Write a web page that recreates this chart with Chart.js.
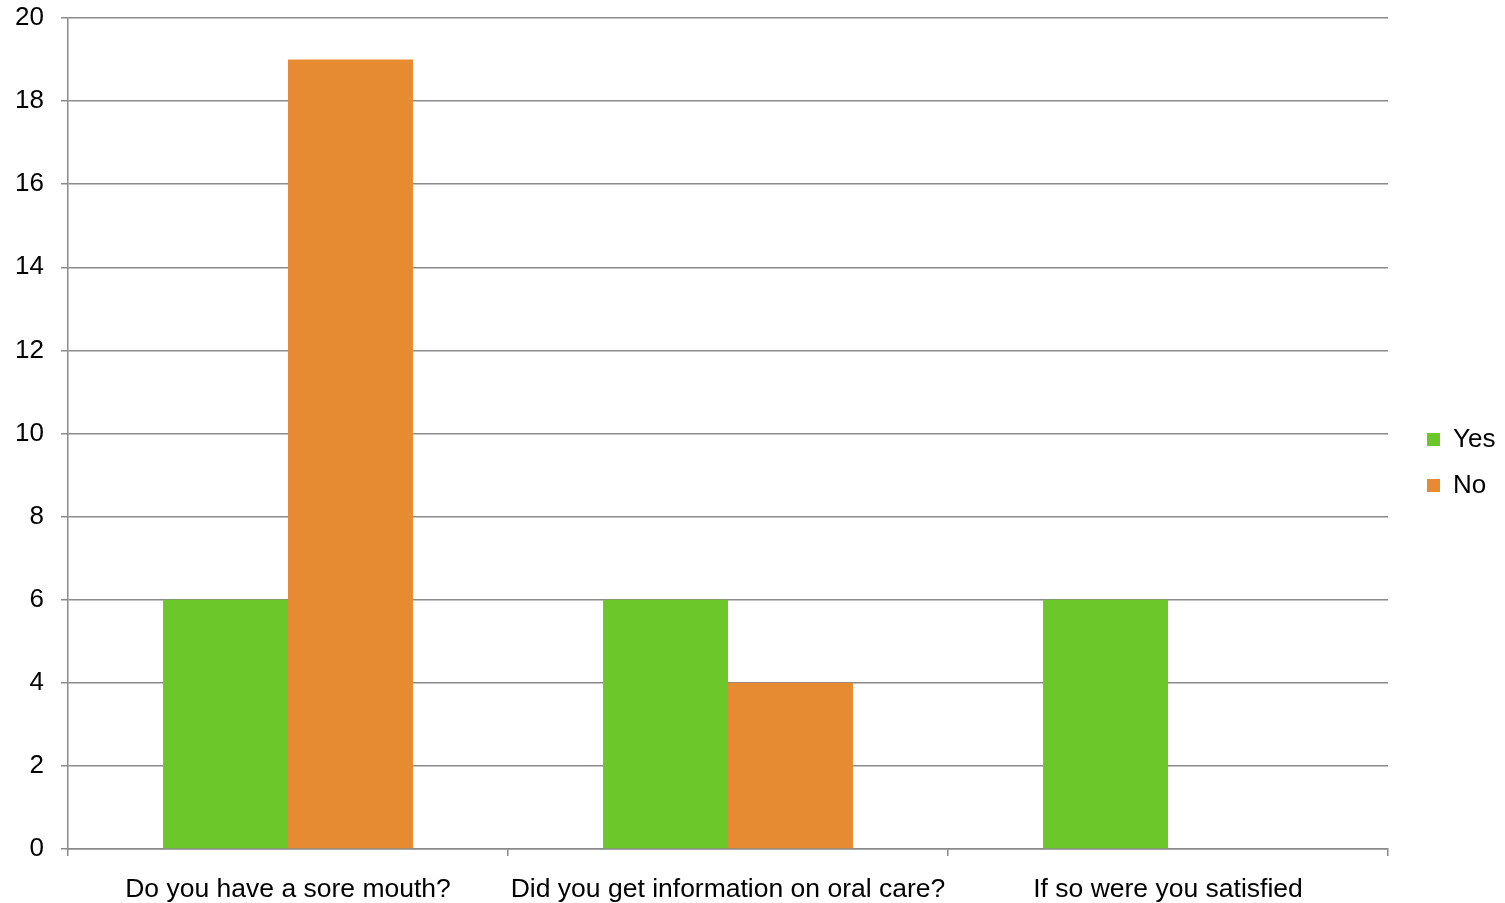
<!DOCTYPE html>
<html>
<head>
<meta charset="utf-8">
<script src="https://cdn.jsdelivr.net/npm/chart.js@4/dist/chart.umd.min.js"></script>
<style>
html,body{margin:0;padding:0;background:#fff;}
#wrap{width:1505px;height:903px;position:relative;}
</style>
</head>
<body>
<div id="wrap"><canvas id="c" width="1505" height="903"></canvas></div>
<script>
const categories = ["Do you have a sore mouth?", "Did you get information on oral care?", "If so were you satisfied"];
const yesValues = [6, 6, 6];
const noValues = [19, 4, 0];
const seriesNames = ["Yes", "No"];

const FONT = "'Liberation Sans', Arial, sans-serif";
const GRID = '#8a8a8a';

const legendShift = {
  id: 'legendShift',
  afterInit(chart) {
    const lg = chart.legend;
    const orig = lg.fit.bind(lg);
    lg.fit = function () { orig(); this.width = 117; };
  },
  afterLayout(chart) {
    const lg = chart.legend;
    lg.left += 19;
    lg.top += 2; lg.bottom += 2;
  }
};

new Chart(document.getElementById('c'), {
  type: 'bar',
  data: {
    labels: categories,
    datasets: [
      { label: seriesNames[0], data: yesValues, backgroundColor: '#6BC72A', borderWidth: 0 },
      { label: seriesNames[1], data: noValues, backgroundColor: '#E68B32', borderWidth: 0 }
    ]
  },
  options: {
    responsive: false,
    animation: false,
    layout: { padding: { top: 18, right: 0, bottom: 0, left: 0 } },
    datasets: { bar: { barPercentage: 1, categoryPercentage: 0.568 } },
    plugins: {
      tooltip: { enabled: false },
      legend: {
        position: 'right',
        labels: {
          boxWidth: 13, boxHeight: 13, padding: 20,
          color: '#000', font: { family: FONT, size: 26 }
        }
      }
    },
    scales: {
      x: {
        afterFit(s) { s.height = 54; s.paddingLeft = 0; s.paddingRight = 0; },
        grid: { offset: true, drawOnChartArea: false, drawTicks: true, tickLength: 7, color: GRID, lineWidth: 1.5 },
        border: { color: GRID, width: 1.5 },
        ticks: { color: '#000', font: { family: FONT, size: 26.5 }, padding: 18, maxRotation: 0, autoSkip: false }
      },
      y: {
        min: 0, max: 20,
        afterFit(s) { s.width = 68; s.paddingTop = 0; s.paddingBottom = 0; },
        grid: { color: GRID, lineWidth: 1.5, tickLength: 7, drawTicks: true },
        border: { color: GRID, width: 1.5 },
        ticks: { stepSize: 2, color: '#000', font: { family: FONT, size: 26 }, padding: 17 }
      }
    }
  },
  plugins: [legendShift]
});
</script>
</body>
</html>
